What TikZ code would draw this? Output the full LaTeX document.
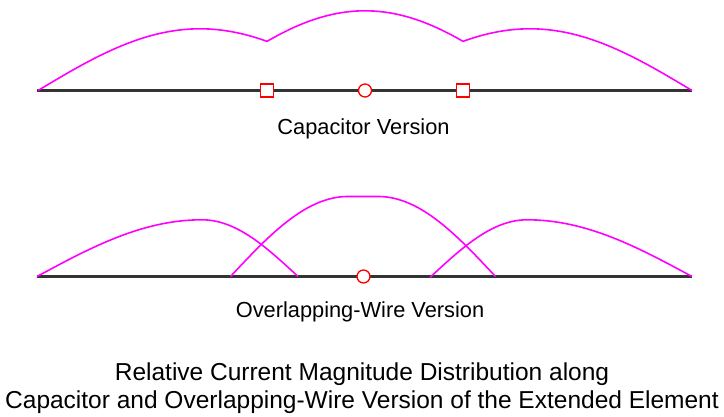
\documentclass[tikz,border=0pt]{standalone}
\usepackage{fontspec}
\setmainfont{Liberation Sans}
\usetikzlibrary{positioning}
\definecolor{curmag}{RGB}{255,0,255}
\definecolor{marker}{RGB}{255,0,0}

\begin{document}
\begin{tikzpicture}[
    x=1pt,
    y=-1pt,
    wire/.style={
        line width=2.2pt,
        black!80
    },
    current/.style={
        curmag,
        line width=1.6pt,
        samples=120
    },
    capbox/.style={
        draw=marker,
        fill=white,
        line width=1.3pt,
        minimum size=13pt,
        inner sep=0pt
    },
    feed/.style={
        draw=marker,
        fill=white,
        circle,
        line width=1.3pt,
        minimum size=13pt,
        inner sep=0pt
    },
    caption/.style={
        font=\fontsize{21.8}{24}\selectfont,
        anchor=base
    },
    title/.style={
        font=\fontsize{24.5}{28}\selectfont,
        align=center,
        anchor=base
    }
]
\useasboundingbox (0,0) rectangle (724,417);

% Capacitor version
\coordinate (capL) at (37,90.5);
\coordinate (capR) at (692,90.5);
\draw[wire] (capL) -- (capR);

\draw[current] plot[domain=38:267] (\x, {90.5 - 61.7*sin((\x-38)/162*90)});
\draw[current] plot[domain=267:463] (\x, {90.5 - 79.7*cos(0.53*(\x-365))});
\draw[current] plot[domain=463:692] (\x, {90.5 - 61.7*sin((692-\x)/162*90)});

\node[capbox] (capgap1) at (267,90.5) {};
\node[feed] (capfeed) at (365,90.5) {};
\node[capbox] (capgap2) at (463,90.5) {};

\node[caption] (captxt) at (363.5,135) {Capacitor Version};

% Overlapping-wire version
\coordinate (olapL) at (37,276.5);
\coordinate (olapR) at (692,276.5);
\draw[wire] (olapL) -- (olapR);

\draw[current] plot[domain=37:298] (\x, {276.5 - (\x<202 ? 56.7*sin((\x-37)/165*90) : 56.7*cos((\x-202)/96*90))});
\draw[current] plot[domain=230.5:495.5] (\x, {276.5 - 80*cos(0.766*max(0,abs(\x-363)-15))});
\draw[current] plot[domain=430:692] (\x, {276.5 - ((729-\x)<202 ? 56.7*sin((692-\x)/165*90) : 56.7*cos((527-\x)/96*90))});

\node[feed] (olapfeed) at (363.5,276.5) {};

\node[caption] (olaptxt) at (360,318) {Overlapping-Wire Version};

% Title
\node[title] (title) at (362,408) {Relative Current Magnitude Distribution along\\Capacitor and Overlapping-Wire Version of the Extended Element};

\end{tikzpicture}
\end{document}
